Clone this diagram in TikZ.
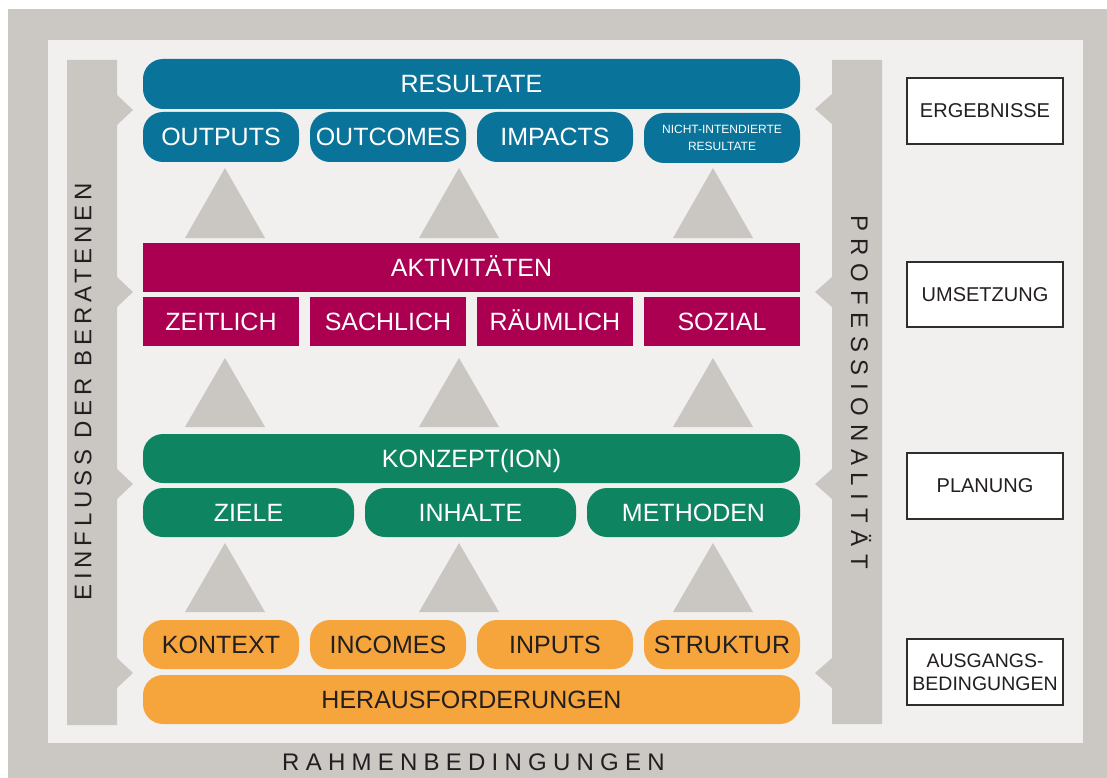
\documentclass[tikz,border=0pt]{standalone}
\usepackage{fontspec}
\setmainfont{Liberation Sans}
\definecolor{couter}{HTML}{CBC7C3}
\definecolor{cpanel}{HTML}{F1F0EE}
\definecolor{cbar}{HTML}{CAC6C2}
\definecolor{ctri}{HTML}{CAC6C2}
\definecolor{cblue}{HTML}{0A7399}
\definecolor{cmag}{HTML}{AB0051}
\definecolor{cgreen}{HTML}{0E8560}
\definecolor{corange}{HTML}{F6A53C}
\definecolor{ctext}{HTML}{231F20}
\definecolor{cframe}{HTML}{2E2E2E}
\newcommand\fsz[2]{\fontsize{#1}{#2}\selectfont}
\begin{document}
\begin{tikzpicture}[x=1pt,y=-1pt,
  every node/.style={inner sep=0pt, outer sep=0pt},
  bxbase/.style={minimum height=49pt},
  bx/.style={bxbase, font=\fsz{25}{29}, text height=18pt, text depth=0pt},
  blu/.style={bx, fill=cblue, text=white, rounded corners=20pt},
  blusmall/.style={bxbase, fill=cblue, text=white, rounded corners=20pt, font=\fsz{12}{17}, align=center},
  mag/.style={bx, fill=cmag, text=white},
  grn/.style={bx, fill=cgreen, text=white, rounded corners=20pt},
  org/.style={bx, fill=corange, text=ctext, rounded corners=20pt},
  lbl/.style={draw=cframe, line width=1.2pt, fill=white, minimum width=156pt, minimum height=66pt, font=\fsz{20}{24}, text=ctext, align=center},
  tri/.style={fill=ctri},
  sidebar/.style={fill=cbar},
  spaced/.style={text=ctext}]
\useasboundingbox (0,0) rectangle (1107,778);
% background
\fill[white] (0,0) rectangle (1107,778);
\fill[couter] (8,9) rectangle (1107,778);
\fill[cpanel] (48,40) rectangle (1083,743);
% side bars with notches
\fill[sidebar] (67,60) -- (117,60) -- (117,95) -- (133,110) -- (117,125)
  -- (117,277) -- (133,292) -- (117,307)
  -- (117,469) -- (133,484) -- (117,499)
  -- (117,658) -- (133,673) -- (117,688)
  -- (117,725) -- (67,725) -- cycle;
\fill[sidebar] (882,60) -- (882,724) -- (832,724)
  -- (832,688) -- (815,673) -- (832,658)
  -- (832,499) -- (815,484) -- (832,469)
  -- (832,307) -- (815,292) -- (832,277)
  -- (832,124) -- (815,109) -- (832,94)
  -- (832,60) -- cycle;
% triangles
\foreach \cx in {225,459,713}{
  \fill[tri] (\cx-40,238) -- (\cx,168) -- (\cx+40,238) -- cycle;
  \fill[tri] (\cx-40,427) -- (\cx,358) -- (\cx+40,427) -- cycle;
  \fill[tri] (\cx-40,612) -- (\cx,543) -- (\cx+40,612) -- cycle;
}
% blue
\node[blu, minimum width=657pt, minimum height=50pt] (res) at (471.5,84) {RESULTATE};
\node[blu, minimum width=156pt, minimum height=50pt] (outputs) at (221,137) {OUTPUTS};
\node[blu, minimum width=156pt, minimum height=50pt] (outcomes) at (388,137) {OUTCOMES};
\node[blu, minimum width=156pt, minimum height=50pt] (impacts) at (555,137) {IMPACTS};
\node[blusmall, minimum width=156pt, minimum height=50pt] (nicht) at (722,138) {NICHT-INTENDIERTE\\RESULTATE};
% magenta
\node[mag, minimum width=657pt] (akt) at (471.5,267.5) {AKTIVITÄTEN};
\node[mag, minimum width=156pt] (zeit) at (221,321.5) {ZEITLICH};
\node[mag, minimum width=156pt] (sach) at (388,321.5) {SACHLICH};
\node[mag, minimum width=156pt] (raum) at (555,321.5) {RÄUMLICH};
\node[mag, minimum width=156pt] (sozial) at (722,321.5) {SOZIAL};
% green
\node[grn, minimum width=657pt] (konz) at (471.5,458.5) {KONZEPT(ION)};
\node[grn, minimum width=211pt] (ziele) at (248.5,512.5) {ZIELE};
\node[grn, minimum width=211pt] (inhalte) at (470.5,512.5) {INHALTE};
\node[grn, minimum width=213pt] (methoden) at (693.5,512.5) {METHODEN};
% orange
\node[org, minimum width=156pt] (kontext) at (221,644.5) {KONTEXT};
\node[org, minimum width=156pt] (incomes) at (388,644.5) {INCOMES};
\node[org, minimum width=156pt] (inputs) at (555,644.5) {INPUTS};
\node[org, minimum width=156pt] (struktur) at (722,644.5) {STRUKTUR};
\node[org, minimum width=657pt] (heraus) at (471.5,699.5) {HERAUSFORDERUNGEN};
% right labels
\node[lbl] (erg) at (985,111) {ERGEBNISSE};
\node[lbl, minimum height=65pt] (ums) at (985,294.5) {UMSETZUNG};
\node[lbl] (plan) at (985,486) {PLANUNG};
\node[lbl, font=\fsz{19.5}{23}] (ausg) at (985,672) {AUSGANGS-\\BEDINGUNGEN};
% letter-spaced labels
\node[spaced, rotate=90, font=\fsz{24}{28}\addfontfeature{LetterSpace=20}] (einfluss) at (83,392) {EINFLUSS DER BERATENEN};
\node[spaced, rotate=-90, font=\fsz{24}{28}\addfontfeature{LetterSpace=32}] (prof) at (861,392) {PROFESSIONALITÄT};
\node[spaced, font=\fsz{24}{28}\addfontfeature{LetterSpace=26}] (rahmen) at (473.5,762) {RAHMENBEDINGUNGEN};
\end{tikzpicture}
\end{document}
